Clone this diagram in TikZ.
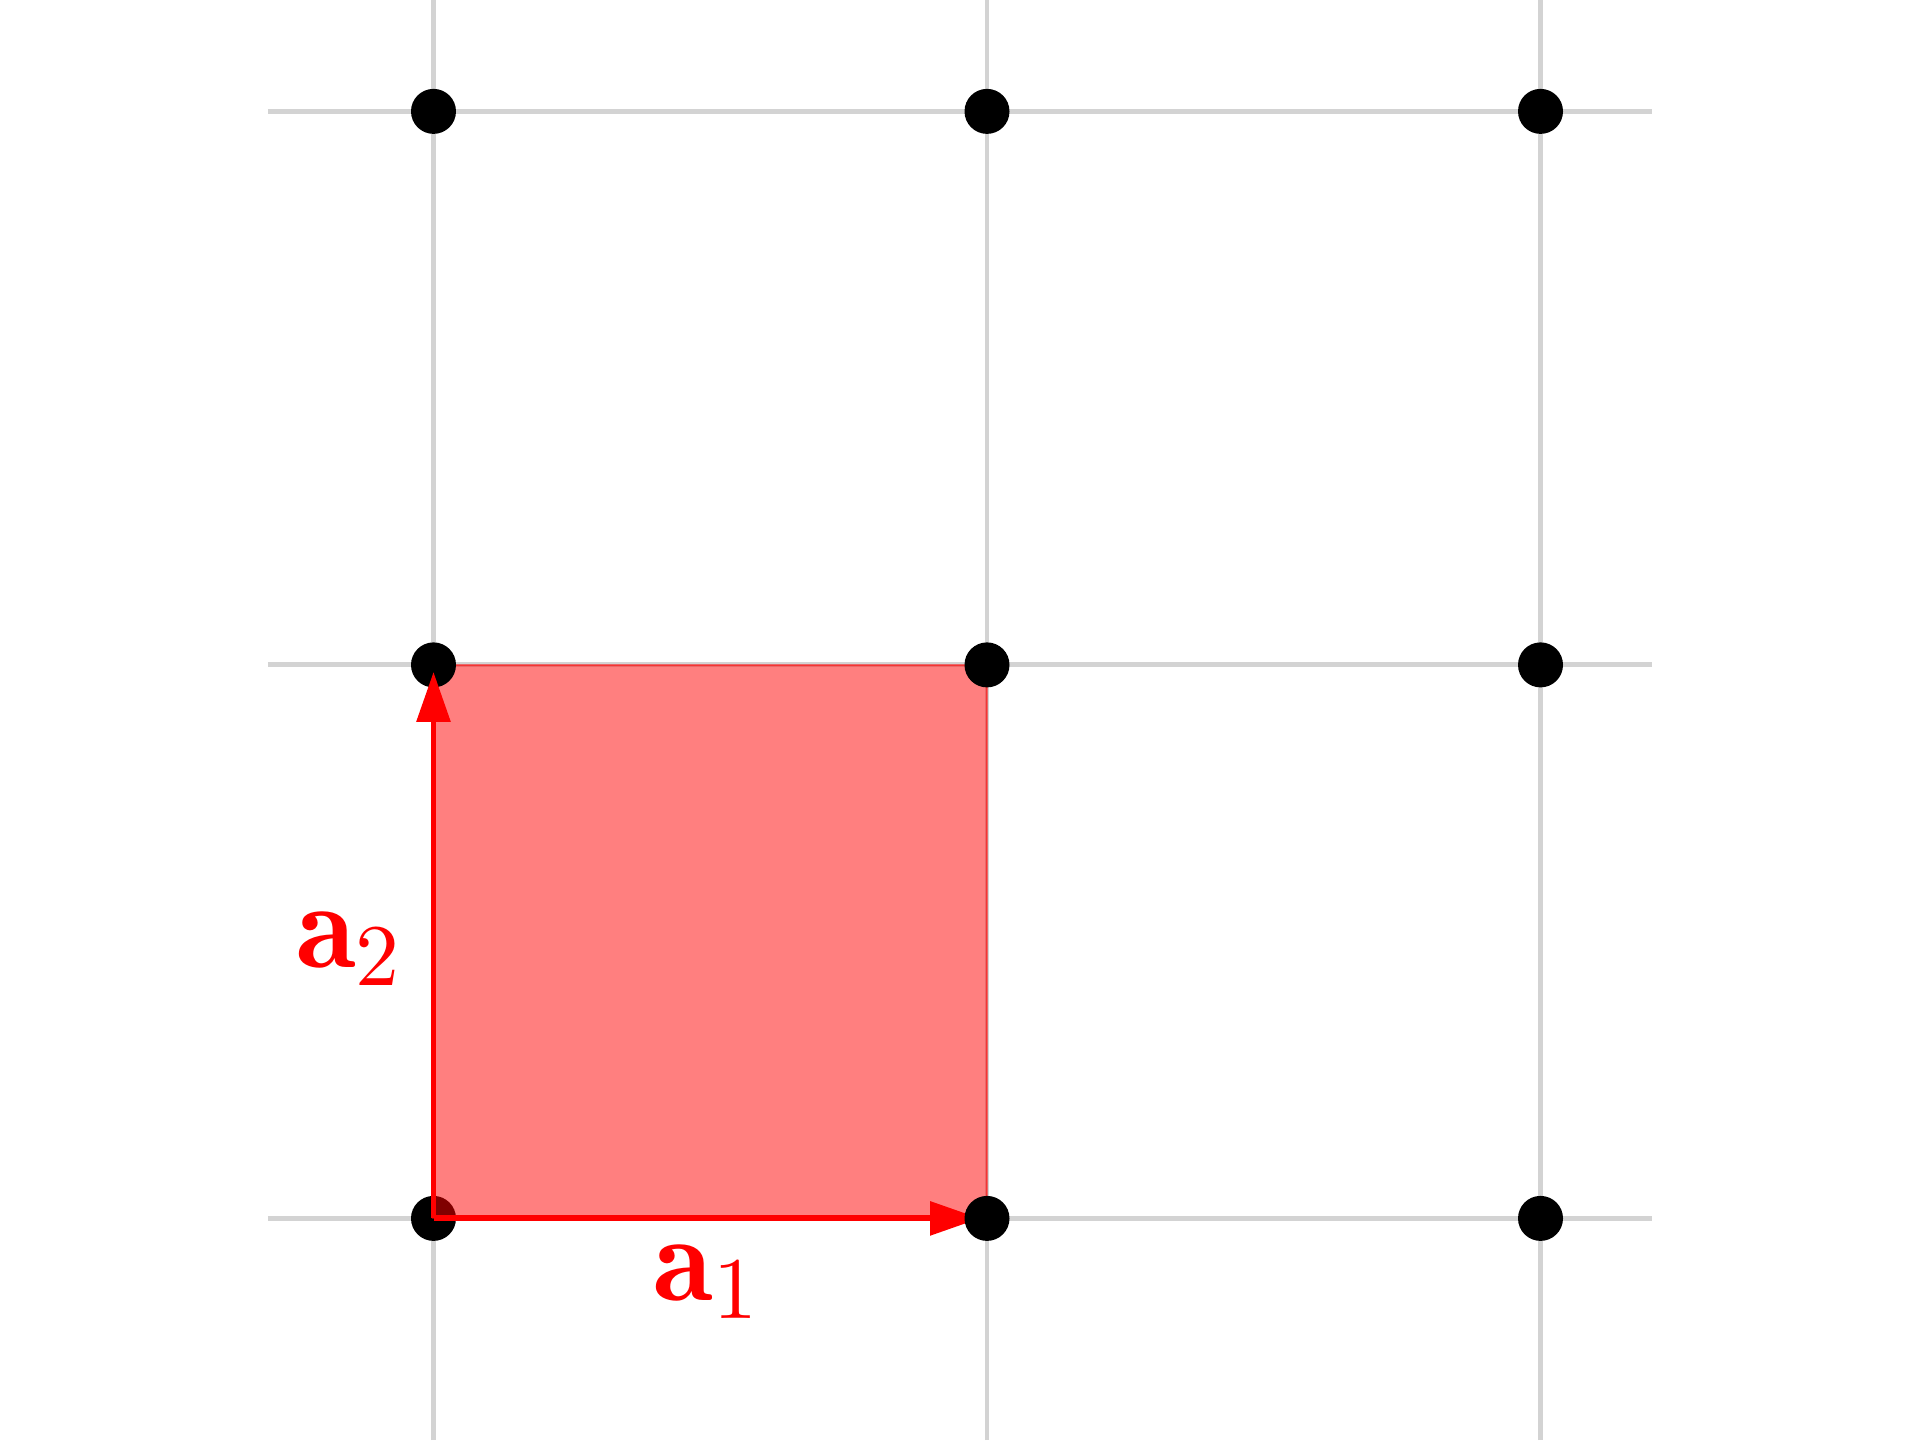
\documentclass[tikz,border=0pt]{standalone}
\usepackage{fontspec}
\newfontfamily\labfont{lmroman10-regular.otf}[BoldFont=lmromandemi10-regular.otf]
\usetikzlibrary{arrows.meta,calc}
\definecolor{latgrey}{RGB}{211,211,211}
\definecolor{latred}{RGB}{255,0,0}
\newcommand{\latvec}[1]{\textbf{a}\raisebox{-5.2pt}{\fontsize{25}{30}\selectfont #1}}
\tikzset{
  latline/.style={latgrey,line width=1.4pt},
  latdot/.style={fill=black},
  vecarrow/.style={latred,line width=1.7pt,
    -{Triangle[length=0.5cm,width=0.33cm]},shorten >=0.07cm},
  veclabel/.style={text=latred,anchor=base,inner sep=0pt,
    font=\labfont\fontsize{35}{42}\selectfont}
}

\begin{document}
\begin{tikzpicture}
  \useasboundingbox (-4.335,-2.216) rectangle (14.865,12.184);
  % lattice lines
  \foreach \i in {0,1,2} {
    \draw[latline] (\i*5.535,-2.216) -- (\i*5.535,12.184);
    \draw[latline] (-1.655,\i*5.535) -- (12.185,\i*5.535);
  }
  \coordinate (O) at (0,0);
  \coordinate (A) at (5.535,0);
  \coordinate (B) at (0,5.535);
  \coordinate (C) at (5.535,5.535);
  \fill[latdot] (O) circle (0.225);
  % unit cell
  \filldraw[fill=latred,fill opacity=0.5,draw=latred,draw opacity=0.5,
    line width=0.6pt] (O) -- (A) -- (C) -- (B) -- cycle;
  \draw[vecarrow] (O) -- (A);
  \foreach \i/\j in {1/0,2/0,0/1,1/1,2/1,0/2,1/2,2/2}
    \fill[latdot] (\i*5.535,\j*5.535) circle (0.225);
  \draw[vecarrow] (O) -- (B);
  \node[veclabel] (a1) at ($(O)!0.5!(A)+(-0.05,-0.816)$) {\latvec{1}};
  \node[veclabel] (a2) at ($(O)!0.5!(B)+(-0.855,-0.26)$) {\latvec{2}};
\end{tikzpicture}
\end{document}
